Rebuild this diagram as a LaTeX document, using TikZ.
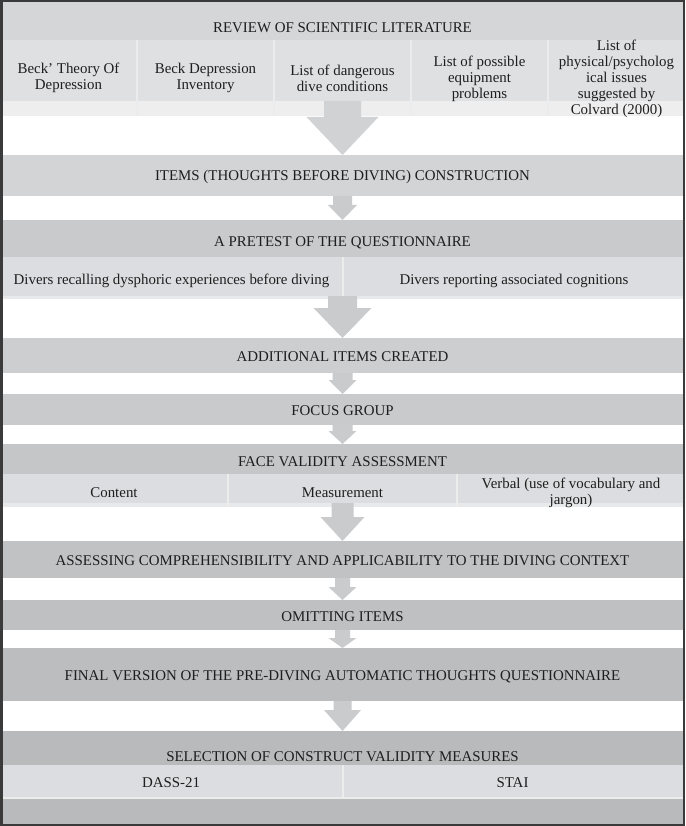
\documentclass[tikz,border=0pt]{standalone}
\usepackage{fontspec}
\setmainfont{Liberation Serif}
\usetikzlibrary{calc}
\definecolor{cA}{HTML}{D5D6D8}
\definecolor{rA}{HTML}{DFE0E2}
\definecolor{sA}{HTML}{EEEEEF}
\definecolor{cB}{HTML}{D3D4D6}
\definecolor{cC}{HTML}{C9CACC}
\definecolor{rB}{HTML}{DCDDE0}
\definecolor{sB}{HTML}{E8E9EA}
\definecolor{cD}{HTML}{CDCED0}
\definecolor{cE}{HTML}{C9CACC}
\definecolor{cF}{HTML}{C5C6C8}
\definecolor{cG}{HTML}{C1C2C4}
\definecolor{cH}{HTML}{BFC0C2}
\definecolor{cI}{HTML}{BCBDBF}
\definecolor{cJ}{HTML}{B9BABC}
\definecolor{arrc}{HTML}{CACBCD}
\definecolor{arrtop}{HTML}{D1D2D4}
\definecolor{divc}{HTML}{ECECED}
\definecolor{txtc}{HTML}{1E1E1E}
\definecolor{framec}{HTML}{3A3A3A}
\newcommand\barrow[6]{%
  \fill[fill=#6] let \p1=(#1.south), \p2=(#2.north) in
    (\x1-#3pt,\y1) -- (\x1-#3pt,\y2+#5pt) -- (\x1-#4pt,\y2+#5pt) -- (\x1,\y2)
    -- (\x1+#4pt,\y2+#5pt) -- (\x1+#3pt,\y2+#5pt) -- (\x1+#3pt,\y1) -- cycle;}
\begin{document}
\begin{tikzpicture}[x=1pt,y=-1pt,
  font=\fontsize{14.9}{16}\selectfont,
  band/.style={rectangle, inner sep=0pt, outer sep=0pt, minimum width=685pt, anchor=north, draw=none},
  txt/.style={inner sep=0pt, anchor=base, text=txtc},
  cell/.style={inner sep=0pt, align=center, text=txtc},
  sepline/.style={draw=divc, line width=1.2pt}]
\useasboundingbox (0,0) rectangle (685,826);
% bands
\node[band, fill=cA, minimum height=40pt] (review) at (342.5,0) {};
\node[band, fill=rA, minimum height=61pt] (reviewrow) at (342.5,40) {};
\node[band, fill=sA, minimum height=15pt] (reviewstrip) at (342.5,101) {};
\node[band, fill=cB, minimum height=41pt] (items) at (342.5,155) {};
\node[band, fill=cC, minimum height=37pt] (pretest) at (342.5,220) {};
\node[band, fill=rB, minimum height=39pt] (pretestrow) at (342.5,257) {};
\node[band, fill=sB, minimum height=3pt] (preteststrip) at (342.5,296) {};
\node[band, fill=cD, minimum height=35pt] (additional) at (342.5,338) {};
\node[band, fill=cE, minimum height=31pt] (focus) at (342.5,394) {};
\node[band, fill=cF, minimum height=30pt] (face) at (342.5,444) {};
\node[band, fill=rB, minimum height=29pt] (facerow) at (342.5,474) {};
\node[band, fill=sB, minimum height=4pt] (facestrip) at (342.5,503) {};
\node[band, fill=cG, minimum height=37pt] (assessing) at (342.5,541) {};
\node[band, fill=cH, minimum height=30pt] (omitting) at (342.5,600) {};
\node[band, fill=cI, minimum height=53pt] (final) at (342.5,648) {};
\node[band, fill=cJ, minimum height=34pt] (selection) at (342.5,731) {};
\node[band, fill=rB, minimum height=33pt] (selrow) at (342.5,765) {};
\node[band, fill=cJ, minimum height=26pt] (selbottom) at (342.5,798) {};
% cell dividers
\foreach \xx in {137,274,411,548} \draw[sepline] (\xx,40) -- (\xx,116);
\draw[sepline] (343,257) -- (343,299);
\foreach \xx in {228,457} \draw[sepline] (\xx,474) -- (\xx,507);
\draw[sepline] (343,765) -- (343,798);
\draw[sepline] (0,798) -- (685,798);
% arrows
\barrow{reviewrow}{items}{18.5}{36}{38}{arrtop}
\barrow{items}{pretest}{9.5}{14.5}{15}{arrc}
\barrow{pretestrow}{additional}{14.5}{29}{30}{arrc}
\barrow{additional}{focus}{10}{14}{14}{arrc}
\barrow{focus}{face}{10}{14}{13}{arrc}
\barrow{facerow}{assessing}{11}{22}{24}{arrc}
\barrow{assessing}{omitting}{7.5}{14}{13}{arrc}
\barrow{omitting}{final}{7.5}{14}{10}{arrc}
\barrow{final}{selection}{9}{18.5}{21}{arrc}
% texts
\node[txt] (reviewT) at (342.5,33) {REVIEW OF SCIENTIFIC LITERATURE};
\node[cell] (lit1) at (68.5,78) {Beck’ Theory Of\\Depression};
\node[cell] (lit2) at (205.5,78) {Beck Depression\\Inventory};
\node[cell] (lit3) at (342.5,78) {List of dangerous\\dive conditions};
\node[cell] (lit4) at (479.5,79) {List of possible\\equipment\\problems};
\node[cell] (lit5) at (616.5,79) {List of\\physical/psycholog\\ical issues\\suggested by\\Colvard (2000)};
\node[txt] (itemsT) at (342.5,181) {ITEMS (THOUGHTS BEFORE DIVING) CONSTRUCTION};
\node[txt] (pretestT) at (342.5,246) {A PRETEST OF THE QUESTIONNAIRE};
\node[txt] (pre1) at (171.5,284) {Divers recalling dysphoric experiences before diving};
\node[txt] (pre2) at (514,284) {Divers reporting associated cognitions};
\node[txt] (additionalT) at (342.5,361) {ADDITIONAL ITEMS CREATED};
\node[txt] (focusT) at (342.5,415) {FOCUS GROUP};
\node[txt] (faceT) at (342.5,466) {FACE VALIDITY ASSESSMENT};
\node[txt] (face1) at (114,497) {Content};
\node[txt] (face2) at (342.5,497) {Measurement};
\node[cell] (face3) at (571,493) {Verbal (use of vocabulary and\\jargon)};
\node[txt] (assessingT) at (342.5,565) {ASSESSING COMPREHENSIBILITY AND APPLICABILITY TO THE DIVING CONTEXT};
\node[txt] (omittingT) at (342.5,621) {OMITTING ITEMS};
\node[txt] (finalT) at (342.5,680) {FINAL VERSION OF THE PRE-DIVING AUTOMATIC THOUGHTS QUESTIONNAIRE};
\node[txt] (selectionT) at (342.5,761) {SELECTION OF CONSTRUCT VALIDITY MEASURES};
\node[txt] (sel1) at (171,787) {DASS-21};
\node[txt] (sel2) at (512.5,787) {STAI};
% frame
\draw[draw=framec, line width=2.5pt] (1.25,1.25) rectangle (683.75,824.75);
\end{tikzpicture}
\end{document}
